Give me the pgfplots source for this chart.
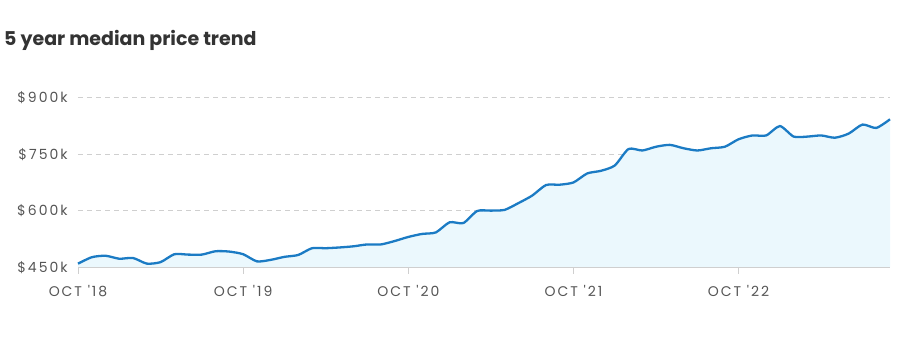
\documentclass[border=0pt]{standalone}
\usepackage{fontspec}
\setmainfont{Poppins}
\newfontfamily\tickfont[LetterSpace=14]{Poppins}
\usepackage{pgfplots}
\pgfplotsset{compat=1.18}
\definecolor{linec}{HTML}{1B7BC4}
\definecolor{fillc}{HTML}{EBF8FD}
\definecolor{gridc}{HTML}{CFCFCF}
\definecolor{textc}{HTML}{555555}
\definecolor{titlec}{HTML}{333333}
\begin{document}
\begin{tikzpicture}[x=1pt,y=1pt]
\useasboundingbox (0,0) rectangle (901,362);
\node[anchor=base west,font=\fontsize{19}{22}\selectfont\bfseries,text=titlec,inner sep=0pt] at (4,316) {5 year median price trend};
\begin{axis}[
  at={(78pt,95pt)}, anchor=south west,
  scale only axis, width=812pt, height=171pt,
  xmin=0, xmax=59, ymin=450, ymax=905,
  axis line style={draw=none},
  clip=false,
  ytick={450,600,750,900},
  yticklabels={\$450k,\$600k,\$750k,\$900k},
  xtick={0,12,24,36,48},
  xticklabels={OCT '18,OCT '19,OCT '20,OCT '21,OCT '22},
  tick label style={font=\tickfont\fontsize{14}{16}\selectfont,text=textc},
  yticklabel style={anchor=base east,xshift=-7pt,yshift=-5pt},
  xticklabel style={anchor=base,yshift=-29pt},
  /pgf/number format/assume math mode=true,
  tick pos=left,
  ytick style={draw=none},
  xtick style={draw=none},
]
\pgfplotsinvokeforeach{600,750,900}{
  \draw[gridc,dash pattern=on 5pt off 4pt,line width=0.8pt] (axis cs:0,#1) -- (axis cs:59,#1);
}
\addplot[draw=none,fill=fillc,smooth,tension=0.4] coordinates {
(0,459)(1,476)(2,480)(3,472)(4,474)(5,459)(6,463)(7,484)(8,483)(9,483)
(10,492)(11,491)(12,484)(13,465)(14,469)(15,477)(16,482)(17,500)(18,500)(19,502)
(20,505)(21,510)(22,510)(23,519)(24,530)(25,538)(26,542)(27,569)(28,567)(29,599)
(30,600)(31,602)(32,620)(33,640)(34,668)(35,669)(36,675)(37,699)(38,706)(39,720)
(40,764)(41,760)(42,770)(43,775)(44,766)(45,760)(46,766)(47,770)(48,790)(49,800)
(50,800)(51,825)(52,797)(53,797)(54,800)(55,794)(56,805)(57,829)(58,820)(59,843)
} \closedcycle;
\draw[gridc,line width=0.8pt] (axis cs:0,450) -- (axis cs:59,450);
\pgfplotsinvokeforeach{0,12,24,36,48}{
  \draw[gridc,line width=0.8pt] (axis cs:#1,450) -- ([yshift=-7pt]axis cs:#1,450);
}
\addplot[linec,line width=2.3pt,smooth,tension=0.4] coordinates {
(0,459)(1,476)(2,480)(3,472)(4,474)(5,459)(6,463)(7,484)(8,483)(9,483)
(10,492)(11,491)(12,484)(13,465)(14,469)(15,477)(16,482)(17,500)(18,500)(19,502)
(20,505)(21,510)(22,510)(23,519)(24,530)(25,538)(26,542)(27,569)(28,567)(29,599)
(30,600)(31,602)(32,620)(33,640)(34,668)(35,669)(36,675)(37,699)(38,706)(39,720)
(40,764)(41,760)(42,770)(43,775)(44,766)(45,760)(46,766)(47,770)(48,790)(49,800)
(50,800)(51,825)(52,797)(53,797)(54,800)(55,794)(56,805)(57,829)(58,820)(59,843)
};
\end{axis}
\end{tikzpicture}
\end{document}
